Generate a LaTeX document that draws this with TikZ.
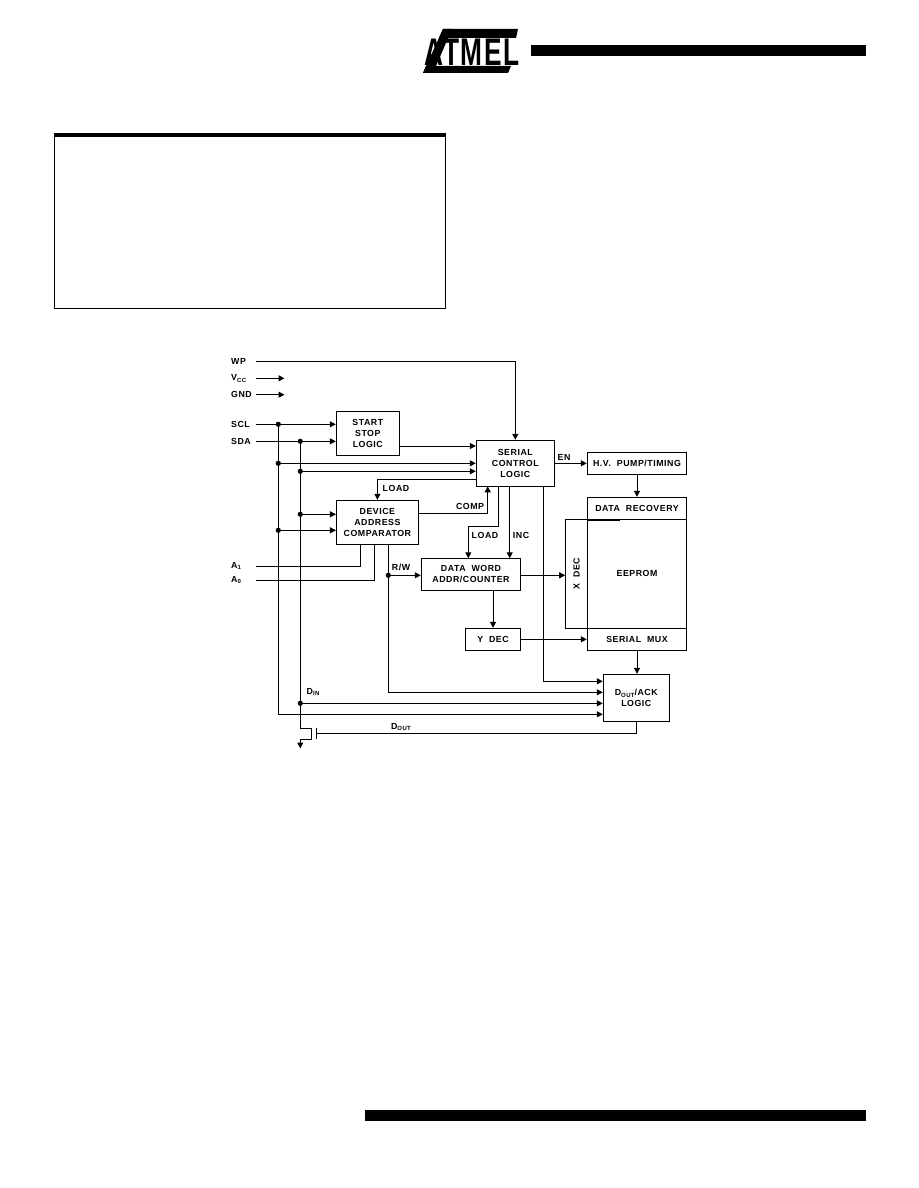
\documentclass[tikz,border=0pt]{standalone}
\usepackage{fontspec}
\setmainfont[LetterSpace=6,WordSpace=2]{Liberation Sans}
\usetikzlibrary{positioning}
\usetikzlibrary{arrows.meta}

\newcommand{\lowtext}[1]{\raisebox{-1.8pt}{\fontsize{6}{6}\selectfont #1}}

\tikzset{
    wire/.style={line width=1pt},
    sig/.style={wire, -{Triangle[length=6pt,width=6pt]}},
    block/.style={draw, line width=1pt, align=center, inner sep=0pt, font=\fontsize{8.8}{10.8}\selectfont\bfseries},
    pin/.style={anchor=west, text width=25pt, inner sep=0pt, align=left, font=\fontsize{8.8}{10.8}\selectfont\bfseries},
    tag/.style={inner sep=0pt, font=\fontsize{8.8}{10.8}\selectfont\bfseries}
}

\begin{document}
\begin{tikzpicture}[x=1pt, y=-1pt]

\useasboundingbox (0,0) rectangle (918,1188);

% Page furniture
\fill (531,45) rectangle (866,56);
\fill (365,1110) rectangle (866,1121);
\draw[line width=1pt] (54.5,135) rectangle (445.5,308.3);
\fill (54,133) rectangle (446,137);

% Logo
\fill (443,29) -- (518,29) -- (516,38) -- (439,38) -- cycle;
\fill (426,66) -- (511,66) -- (508,73) -- (423,73) -- cycle;
\fill (443,29) -- (452,29) -- (433,73) -- (423,73) -- cycle;
\node[inner sep=0pt, font=\fontsize{35}{35}\selectfont\bfseries, xscale=.75, yscale=1.1, transform shape] (logo) at (472,52) {ATMEL};

% Input pins
\node[pin] (wp) at (231,361.3) {WP};
\node[pin] (vcc) at (231,378.3) {V\lowtext{CC}};
\node[pin] (gnd) at (231,394.7) {GND};
\node[pin] (scl) at (231,424.3) {SCL};
\node[pin] (sda) at (231,441.3) {SDA};
\node[pin] (aone) at (231,566) {A\lowtext{1}};
\node[pin] (azero) at (231,580) {A\lowtext{0}};

% Blocks
\node[block, minimum width=63pt, minimum height=44pt] (startstop) at (367.8,433.3) {START\\STOP\\LOGIC};
\node[block, minimum width=82pt, minimum height=44pt] (device) at (377.4,522.3) {DEVICE\\ADDRESS\\COMPARATOR};
\node[block, minimum width=78pt, minimum height=46pt] (serial) at (515.3,463.3) {SERIAL\\CONTROL\\LOGIC};
\node[block, minimum width=99.4pt, minimum height=22pt] (pump) at (637,463.3) {H.V. PUMP/TIMING};
\node[block, minimum width=99.4pt, minimum height=22pt] (recovery) at (637,508.3) {DATA RECOVERY};
\node[block, minimum width=99.4pt, minimum height=109pt] (eeprom) at (637,573.8) {EEPROM};
\node[block, minimum width=99.4pt, minimum height=22pt] (mux) at (637,639.3) {SERIAL MUX};
\node[block, minimum width=21.6pt, minimum height=109pt] (xdec) at (576.5,573.8) {\rotatebox{90}{X DEC}};
\node[block, minimum width=99.4pt, minimum height=32pt] (word) at (471,574.3) {DATA WORD\\ADDR/COUNTER};
\node[block, minimum width=55.4pt, minimum height=22pt] (ydec) at (493,639.3) {Y DEC};
\node[block, minimum width=66pt, minimum height=47pt] (ack) at (636.3,697.8) {D\lowtext{OUT}/ACK\\LOGIC};
\draw[line width=1.8pt] (recovery.south west) -- ++(33,0);

% Junctions and free ends
\coordinate (jscl) at (278.3,424.3);
\coordinate (jsda) at (300.3,441.3);
\coordinate (jctl) at (278.3,463.3);
\coordinate (jdat) at (300.3,471.3);
\coordinate (jdevb) at (300.3,514.3);
\coordinate (jdevc) at (278.3,530.3);
\coordinate (jrw) at (388.3,575.3);
\coordinate (jdin) at (300.3,703.3);
\coordinate (vccend) at (284.5,378.3);
\coordinate (gndend) at (284.5,394.7);
\coordinate (drain) at (311.7,728.3);
\coordinate (source) at (311.7,739.3);
\coordinate (ground) at (300.3,748.5);
\coordinate (gatea) at (316.3,727.7);
\coordinate (gateb) at (316.3,739.3);
\coordinate (gate) at (316.3,733.3);

% Dots
\foreach \spot in {jscl, jsda, jctl, jdat, jdevb, jdevc, jrw, jdin}
{
    \fill (\spot) circle (2.6);
}

% Pin wires
\draw[wire] (wp.east) -- (wp.east -| serial.north);
\draw[sig] (wp.east -| serial.north) -- (serial.north);
\draw[sig] (vcc.east) -- (vccend);
\draw[sig] (gnd.east) -- (gndend);
\draw[sig] (scl.east) -- (scl.east -| startstop.west);
\draw[sig] (sda.east) -- (sda.east -| startstop.west);
\draw[wire] (aone.east) -| (360.3,544.3);
\draw[wire] (azero.east) -| (374.3,544.3);

% Bus lines
\draw[sig] (jscl) |- (ack.west |- 0,714.3);
\draw[wire] (jsda) |- (drain) -- (source) -- (source -| jsda);
\draw[sig] (source -| jsda) -- (ground);
\draw[sig] (jctl) -- (jctl -| serial.west);
\draw[sig] (jdat) -- (jdat -| serial.west);
\draw[sig] (jdevb) -- (jdevb -| device.west);
\draw[sig] (jdevc) -- (jdevc -| device.west);
\draw[sig] (jdin) -- (jdin -| ack.west);

% Transistor
\draw[wire] (gatea) -- (gateb);
\draw[wire] (ack.south) |- (gate);

% Block wires
\draw[sig] (startstop.east |- 0,446) -- (serial.west |- 0,446);
\draw[sig] (serial.west |- 0,479.7) -| (device.north);
\draw[sig] (device.east |- 0,513.3) -| (487.7,486.3);
\draw[sig] (498.3,486.3) |- (468.3,526.7) -- (468.3,558.3);
\draw[sig] (509.7,486.3) -- (509.7,558.3);
\draw[sig] (543.3,486.3) |- (ack.west |- 0,681.3);
\draw[sig] (serial.east) -- (pump.west);
\draw[sig] (pump.south) -- (recovery.north);
\draw[sig] (388.3,544.3) |- (ack.west |- 0,692.3);
\draw[sig] (jrw) -- (jrw -| word.west);
\draw[sig] (word.east |- jrw) -- (jrw -| xdec.west);
\draw[sig] (word.south -| ydec.north) -- (ydec.north);
\draw[sig] (ydec.east) -- (mux.west);
\draw[sig] (mux.south) -- (mux.south |- ack.north);

% Wire labels
\node[tag] (lblen) at (564,457) {EN};
\node[tag] (lblload) at (396,488) {LOAD};
\node[tag] (lblcomp) at (470,506) {COMP};
\node[tag] (lblrw) at (401,567) {R/W};
\node[tag] (lblloadb) at (485,535) {LOAD};
\node[tag] (lblinc) at (521,535) {INC};
\node[tag] (lbldin) at (313,692) {D\lowtext{IN}};
\node[tag] (lbldout) at (401,727) {D\lowtext{OUT}};

\end{tikzpicture}
\end{document}
